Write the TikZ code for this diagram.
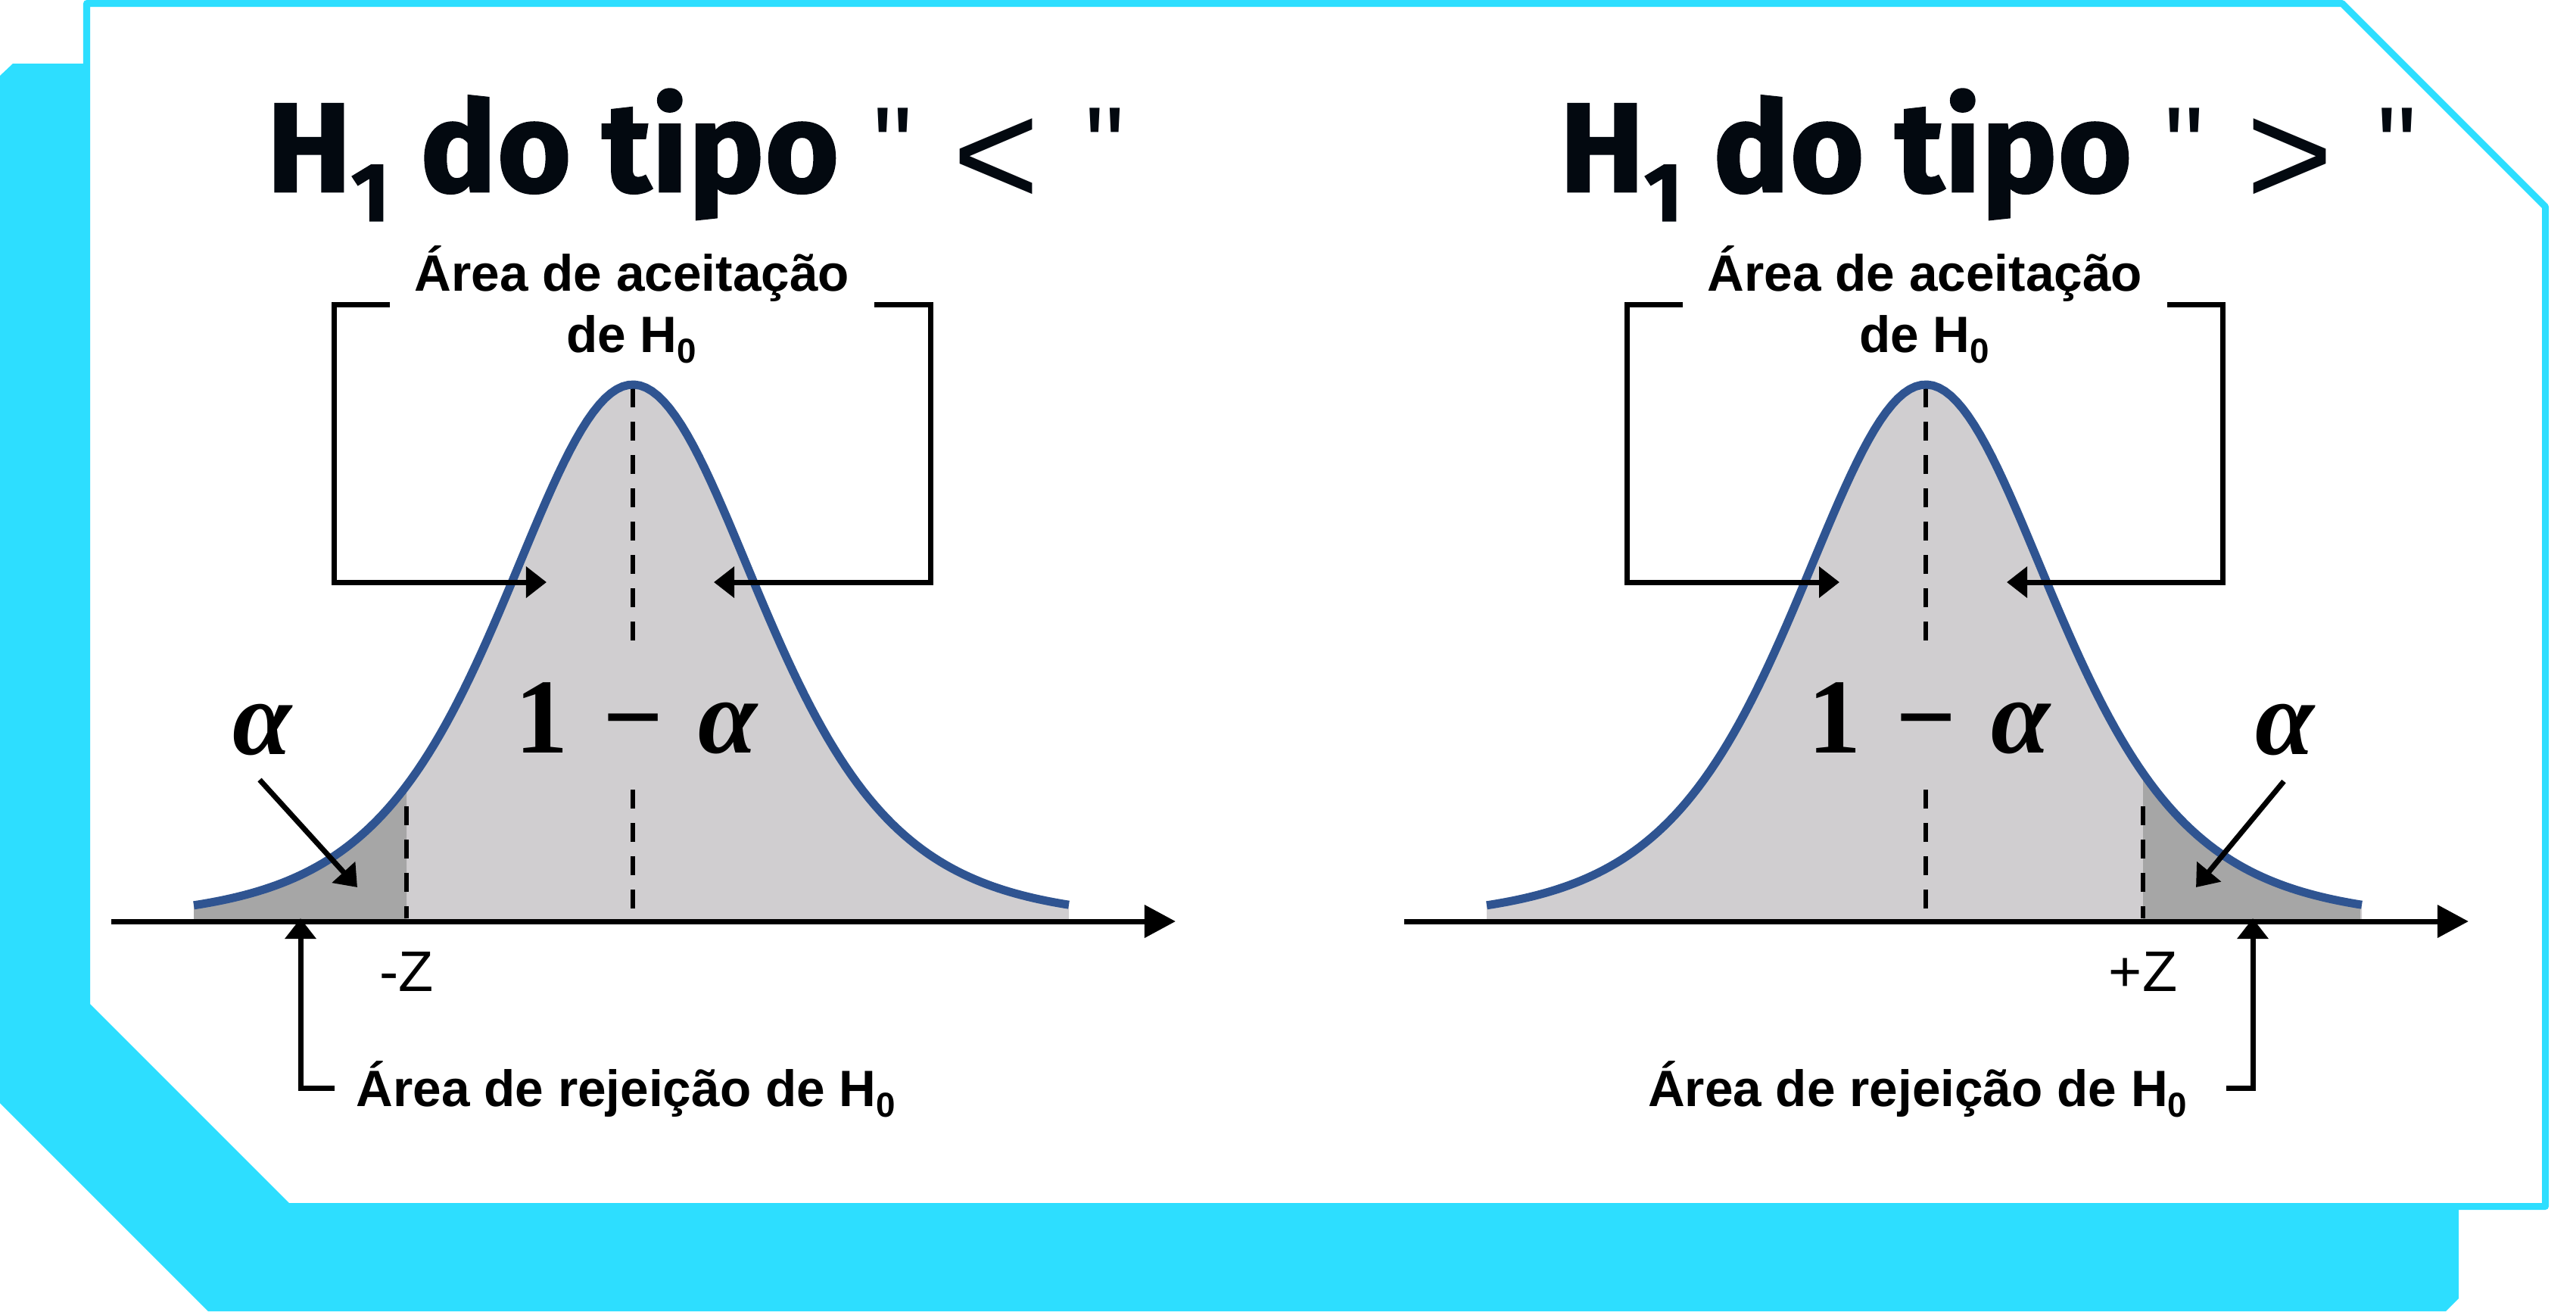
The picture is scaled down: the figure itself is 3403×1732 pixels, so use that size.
\documentclass[tikz,border=0pt]{standalone}
\usepackage{fontspec}
\usetikzlibrary{arrows.meta}
\setmainfont{Liberation Sans}
\newfontfamily\titlefont{Fira Sans}[BoldFeatures={FakeBold=1.5},LetterSpace=0.8]
\newfontfamily\symfont{Liberation Sans}[Ligatures=TeXOff]
\newfontfamily\grk{Liberation Serif}
\definecolor{cyanb}{RGB}{45,222,255}
\definecolor{bellblue}{RGB}{47,84,145}
\definecolor{fillL}{RGB}{208,206,208}
\definecolor{fillD}{RGB}{166,166,166}
\definecolor{ink}{RGB}{3,9,16}
\newcommand\subz[1]{\raisebox{-4.2pt}{\fontsize{13pt}{13pt}\selectfont #1}}
\newcommand\tsub[1]{\raisebox{-11pt}{\fontsize{31pt}{31pt}\selectfont #1}}
\newcommand\alf{{\itshape α}}
\begin{document}
\begin{tikzpicture}[x=0.01cm,y=-0.01cm,
  lbl/.style={font=\bfseries\fontsize{19.2pt}{22pt}\selectfont,inner sep=0pt,text=black},
  zlbl/.style={font=\fontsize{21.5pt}{24pt}\selectfont,inner sep=0pt,text=black},
  ttl/.style={font=\titlefont\bfseries\fontsize{47.5pt}{50pt}\selectfont,text=ink,inner sep=0pt},
  qmark/.style={font=\symfont\fontsize{42pt}{44pt}\selectfont,text=ink,inner sep=0pt},
  ineq/.style={font=\symfont\fontsize{56pt}{58pt}\selectfont,text=ink,inner sep=0pt},
  greek/.style={font=\grk\bfseries\fontsize{40pt}{42pt}\selectfont,inner sep=0pt,text=black},
  bracket/.style={line width=0.07cm,draw=black},
  tipS/.style={-{Triangle[length=0.27cm,width=0.40cm]}},
  axisln/.style={line width=0.07cm,draw=black,-{Triangle[length=0.41cm,width=0.42cm]}},
  dashln/.style={line width=0.06cm,draw=black,dash pattern=on 0.25cm off 0.19cm},
  bell/.style={draw=bellblue,line width=0.11cm,line join=round}]
\useasboundingbox (0,0) rectangle (3403,1732);
% background frame
\fill[cyanb] (0,100) -- (17,84) -- (1000,84) -- (1000,1500) -- (3248,1500) -- (3248,1715) -- (3231,1732) -- (275,1732) -- (0,1457) -- cycle;
\filldraw[fill=white,draw=cyanb,line width=0.09cm,line join=round] (114.5,4.5) -- (3094,4.5) -- (3362.5,273) -- (3362.5,1593.5) -- (380,1593.5) -- (114.5,1328) -- cycle;

% ================= LEFT PANEL =================
\fill[fillL] (256,1217) -- plot[domain=-580:576,samples=150] ({836+\x},{1217-709/((1+(\x/400)^2)^3.1)}) -- (1412,1217) -- cycle;
\fill[fillD] (256,1217) -- plot[domain=-580:-299,samples=60] ({836+\x},{1217-709/((1+(\x/400)^2)^3.1)}) -- (537,1217) -- cycle;
\draw[dashln] (836,513) -- (836,847);
\draw[dashln] (836,1043) -- (836,1200);
\draw[dashln] (537,1065) -- (537,1213);
\draw[bell] plot[domain=-580:576,samples=150] ({836+\x},{1217-709/((1+(\x/400)^2)^3.1)});
\coordinate (LaxL) at (147,1217);
\coordinate (LaxR) at (1553,1217);
\draw[axisln] (LaxL) -- (LaxR);

\node[ttl,anchor=base west] (Ltitle) at (352,253) {H\tsub{1} do tipo};
\node[qmark,anchor=base west] (Lq1) at (1153,244) {"};
\node[ineq,anchor=base west] (Lineq) at (1258,271) {<};
\node[qmark,anchor=base west] (Lq2) at (1433,244) {"};

\node[lbl,anchor=base] (Lacc1) at (835,384) {Área de aceitação};
\node[lbl,anchor=base] (Lacc2) at (834,465) {de H\subz{0}};
\coordinate (LbrA) at (515,402);
\coordinate (LbrAc) at (441,769);
\coordinate (LtipA) at (722,769);
\coordinate (LbrB) at (1155,402);
\coordinate (LbrBc) at (1229,769);
\coordinate (LtipB) at (943,769);
\draw[bracket,tipS] (LbrA) -| (LbrAc) -- (LtipA);
\draw[bracket,tipS] (LbrB) -| (LbrBc) -- (LtipB);

\node[greek,anchor=base] (Lone) at (840,994) {1\hspace{13pt}−\hspace{13pt}\alf};
\node[greek,anchor=base] (Lalpha) at (346,996) {\alf};
\coordinate (LaS) at (343,1030);
\coordinate (LaT) at (472,1172);
\draw[bracket,tipS] (LaS) -- (LaT);

\node[zlbl,anchor=base] (LZ) at (537,1309) {-Z};
\node[lbl,anchor=base west] (Lrej) at (470,1461) {Área de rejeição de H\subz{0}};
\coordinate (LrejE) at (442,1437);
\coordinate (LrejT) at (397,1213);
\draw[bracket,tipS] (LrejE) -| (LrejT);

% ================= RIGHT PANEL =================
\begin{scope}[xshift=17.07cm]
\fill[fillL] (256,1217) -- plot[domain=-580:576,samples=150] ({836+\x},{1217-709/((1+(\x/400)^2)^3.1)}) -- (1412,1217) -- cycle;
\fill[fillD] (1123,1217) -- plot[domain=287:574,samples=60] ({836+\x},{1217-709/((1+(\x/400)^2)^3.1)}) -- (1410,1217) -- cycle;
\draw[dashln] (836,513) -- (836,847);
\draw[dashln] (836,1043) -- (836,1200);
\draw[dashln] (1123,1065) -- (1123,1213);
\draw[bell] plot[domain=-580:576,samples=150] ({836+\x},{1217-709/((1+(\x/400)^2)^3.1)});
\coordinate (RaxL) at (147,1217);
\coordinate (RaxR) at (1553,1217);
\draw[axisln] (RaxL) -- (RaxR);

\node[ttl,anchor=base west] (Rtitle) at (352,253) {H\tsub{1} do tipo};
\node[qmark,anchor=base west] (Rq1) at (1151,244) {"};
\node[ineq,anchor=base west] (Rineq) at (1259,271) {>};
\node[qmark,anchor=base west] (Rq2) at (1432,244) {"};

\node[lbl,anchor=base] (Racc1) at (835,384) {Área de aceitação};
\node[lbl,anchor=base] (Racc2) at (834,465) {de H\subz{0}};
\coordinate (RbrA) at (515,402);
\coordinate (RbrAc) at (441,769);
\coordinate (RtipA) at (722,769);
\coordinate (RbrB) at (1155,402);
\coordinate (RbrBc) at (1228,769);
\coordinate (RtipB) at (943,769);
\draw[bracket,tipS] (RbrA) -| (RbrAc) -- (RtipA);
\draw[bracket,tipS] (RbrB) -| (RbrBc) -- (RtipB);

\node[greek,anchor=base] (Rone) at (840,994) {1\hspace{13pt}−\hspace{13pt}\alf};
\node[greek,anchor=base] (Ralpha) at (1310,996) {\alf};
\coordinate (RaS) at (1309,1032);
\coordinate (RaT) at (1193,1172);
\draw[bracket,tipS] (RaS) -- (RaT);

\node[zlbl,anchor=base] (RZ) at (1123,1309) {+Z};
\node[lbl,anchor=base east] (Rrej) at (1182,1461) {Área de rejeição de H\subz{0}};
\coordinate (RrejE) at (1233,1437);
\coordinate (RrejT) at (1268,1213);
\draw[bracket,tipS] (RrejE) -| (RrejT);
\end{scope}
\end{tikzpicture}
\end{document}
